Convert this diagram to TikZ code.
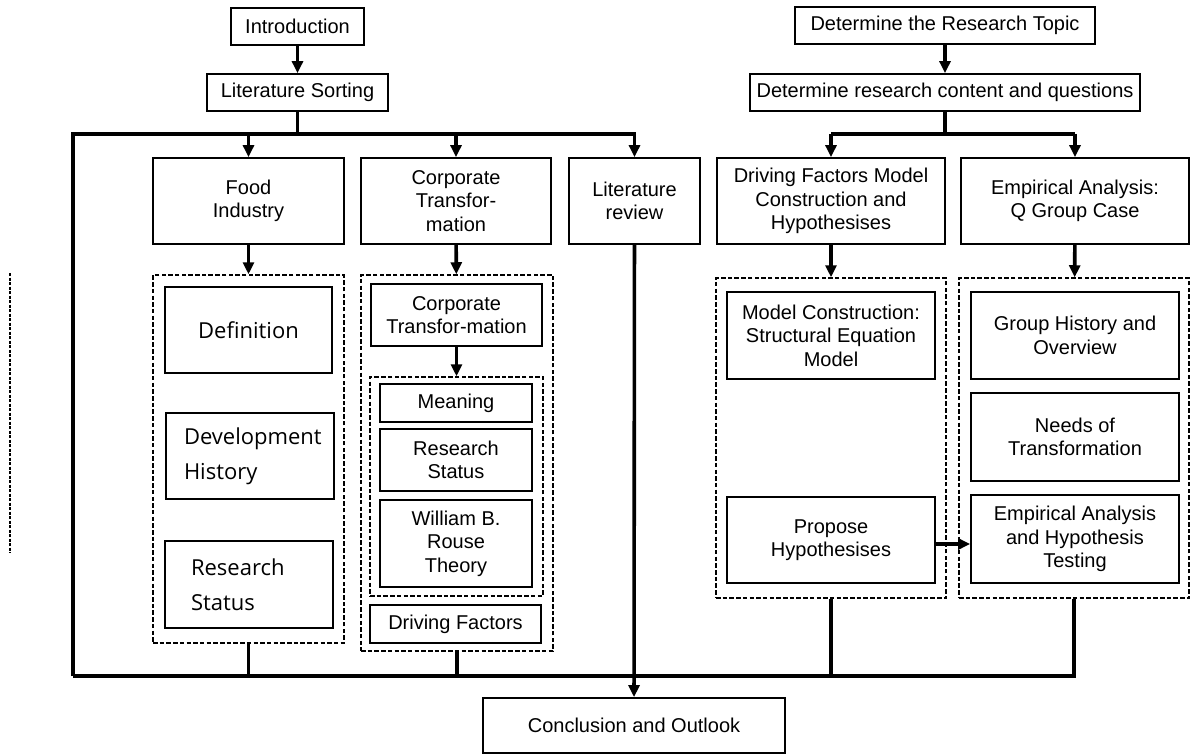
\documentclass[tikz,border=0pt]{standalone}
\usepackage{fontspec}
\setmainfont{Liberation Sans}
\newfontfamily\humfont{Open Sans}
\usetikzlibrary{arrows.meta}
\tikzset{
  box/.style={draw, line width=1.8pt, align=center, inner sep=0pt,
    font=\fontsize{20}{23.5}\selectfont},
  humbox/.style={box, align=left, font=\humfont\fontsize{22}{35}\selectfont},
  dbox/.style={draw, line width=1.5pt, dash pattern=on 4.5pt off 2.2pt, inner sep=0pt},
  conn/.style={line width=3.6pt},
  arr/.style={conn, -{Triangle[length=12pt,width=11pt]}},
}
\begin{document}
\begin{tikzpicture}[x=1pt, y=-1pt]
\useasboundingbox (0,0) rectangle (1193,754);

% top chain, left side
\node[box, minimum width=133, minimum height=37] (intro) at (297.5,26.5) {Introduction};
\node[box, minimum width=181, minimum height=37] (sort) at (297.5,92.5) {Literature Sorting};

% top chain, right side
\node[box, minimum width=300, minimum height=37] (topic) at (945,25.5) {Determine the Research Topic};
\node[box, minimum width=390, minimum height=37] (content) at (945,92.5) {Determine research content and questions};

% second row
\node[box, minimum width=191, minimum height=86] (food) at (248.5,201) {Food\\Industry};
\node[box, minimum width=190, minimum height=86] (corp) at (456,201) {Corporate\\Transfor-\\mation};
\node[box, minimum width=131, minimum height=86] (litrev) at (634.5,201) {Literature\\review};
\node[box, minimum width=228, minimum height=86] (drive) at (831,201) {Driving Factors Model\\Construction and\\Hypothesises};
\node[box, minimum width=228, minimum height=86] (emp) at (1075,201) {Empirical Analysis:\\Q Group Case};

% food industry group
\node[dbox, minimum width=191, minimum height=368] (dash1) at (248.5,459) {};
\node[box, font=\humfont\fontsize{22}{35}\selectfont, minimum width=167, minimum height=86] (def) at (248.5,330) {Definition};
\node[humbox, text width=132, inner xsep=18, minimum height=86] (dev) at (250,456) {Development\\History};
\node[humbox, text width=116, inner xsep=26, minimum height=87] (rs1) at (249,584.5) {Research\\Status};

% corporate transformation group
\node[dbox, minimum width=192, minimum height=376] (dash2) at (457,463) {};
\node[box, minimum width=171, minimum height=62] (ct) at (456.5,315) {Corporate\\Transfor-mation};
\node[dbox, minimum width=173, minimum height=219] (dash2b) at (456.5,486.5) {};
\node[box, minimum width=152, minimum height=38] (mean) at (456,403) {Meaning};
\node[box, minimum width=152, minimum height=62] (rs2) at (456,460) {Research\\Status};
\node[box, minimum width=152, minimum height=87] (wbr) at (456,543.5) {William B.\\Rouse\\Theory};
\node[box, minimum width=171, minimum height=38] (df) at (455.5,624) {Driving Factors};

% model group
\node[dbox, minimum width=230, minimum height=320] (dash3) at (831,438) {};
\node[box, minimum width=208, minimum height=87] (mc) at (831,335.5) {Model Construction:\\Structural Equation\\Model};
\node[box, minimum width=208, minimum height=86] (ph) at (831,540) {Propose\\Hypothesises};

% case group
\node[dbox, minimum width=230, minimum height=320] (dash4) at (1074,438) {};
\node[box, minimum width=208, minimum height=87] (gh) at (1075,335.5) {Group History and\\Overview};
\node[box, minimum width=208, minimum height=88] (nt) at (1075,437) {Needs of\\Transformation};
\node[box, minimum width=208, minimum height=88] (ea) at (1075,539) {Empirical Analysis\\and Hypothesis\\Testing};

% conclusion
\node[box, minimum width=302, minimum height=55] (concl) at (634,725.5) {Conclusion and Outlook};

% frame corners and side marker
\coordinate (tl) at (73,134);
\coordinate (bl) at (73,676);
\coordinate (mk1) at (10,273);
\coordinate (mk2) at (10,553);
\draw[line width=1.7pt, dash pattern=on 3pt off 1.5pt] (mk1) -- (mk2);

% left side connectors
\draw[arr] (intro) -- (sort);
\draw[conn] (sort.south) -- (sort.south |- tl);
\draw[arr] (bl) -- (tl) -- (litrev.north |- tl) -- (litrev.north);
\draw[arr] (food.north |- tl) -- (food.north);
\draw[arr] (corp.north |- tl) -- (corp.north);
\draw[arr] (food) -- (dash1);
\draw[arr] (corp) -- (dash2);
\draw[arr] (ct) -- (dash2b);
\draw[arr] (litrev) -- (concl);

% right side connectors
\draw[arr] (topic) -- (content);
\draw[conn] (content.south) -- (content.south |- tl);
\draw[conn] (drive.north |- tl) -- (emp.north |- tl);
\draw[arr] (drive.north |- tl) -- (drive.north);
\draw[arr] (emp.north |- tl) -- (emp.north);
\draw[arr] (drive) -- (dash3);
\draw[arr] (emp) -- (dash4);
\draw[arr] (ph.east |- 0,544) -- (ea.west |- 0,544);

% bottom collector line
\draw[conn] (bl) -- (dash4.south |- bl) -- (dash4.south);
\draw[conn] (dash1.south) -- (dash1.south |- bl);
\draw[conn] (dash2.south) -- (dash2.south |- bl);
\draw[conn] (dash3.south) -- (dash3.south |- bl);
\end{tikzpicture}
\end{document}
